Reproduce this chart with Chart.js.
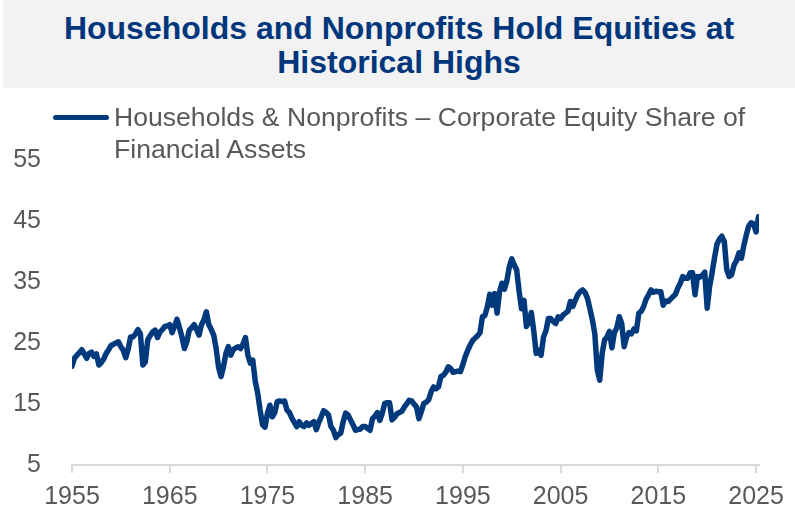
<!DOCTYPE html>
<html>
<head>
<meta charset="utf-8">
<script src="https://cdn.jsdelivr.net/npm/chart.js@4"></script>
<style>
  body { margin: 0; width: 795px; height: 513px; background: #fff; position: relative; overflow: hidden;
         font-family: 'Liberation Sans', Arial, sans-serif; }
  #title { position: absolute; left: 3px; top: 0; width: 792px; height: 88px; background: #F2F2F2;
           color: #00367C; font-weight: bold; font-size: 32px; line-height: 34px; text-align: center;
           box-sizing: border-box; padding-top: 11px; z-index: 2; }
  #legend { position: absolute; left: 53px; top: 102px; z-index: 2; }
  #legend .swatch { position: absolute; left: 0; top: 13px; width: 56px; height: 5px; border-radius: 3px; background: #003A7D; }
  #legend .label { position: absolute; left: 61px; top: 0; white-space: nowrap; color: #595959;
                   font-size: 26.6px; line-height: 31.7px; }
  #wrap { position: absolute; left: 0; top: 0; width: 795px; height: 513px; z-index: 1; }
</style>
</head>
<body>
<div id="title">Households and Nonprofits Hold Equities at<br>Historical Highs</div>
<div id="legend"><div class="swatch"></div><div class="label">Households &amp; Nonprofits – Corporate Equity Share of<br>Financial Assets</div></div>
<div id="wrap"><canvas id="js--chart--1"></canvas></div>
<script>
const seriesLabel = 'Households & Nonprofits – Corporate Equity Share of Financial Assets';
const startYear = 1955; // first quarter of the series
// quarterly values, 1955 Q1 .. 2025 Q2
const equityShare = [
  21.2, 22.5, 23.0, 23.4,  23.9, 23.2, 22.5, 23.3,  23.5, 22.8, 23.2, 21.4,  21.8, 22.4, 23.3, 23.9,  24.6, 24.8, 25.0, 25.2,
  24.4, 23.8, 22.6, 24.0,  26.0, 26.0, 26.5, 27.2,  26.5, 21.4, 21.9, 25.5,  26.2, 26.8, 27.1, 25.9,  26.8, 27.2, 27.7, 27.8,
  28.0, 26.7, 27.8, 28.9,  27.5, 26.0, 24.1, 25.2,  27.1, 27.5, 28.0, 27.2,  26.3, 28.0, 28.8, 30.1,  28.0, 27.2, 26.3, 24.1,
  21.0, 19.5, 21.1, 23.3,  24.4, 23.0, 23.9, 24.2,  24.4, 24.1, 24.8, 25.9,  23.0, 21.7, 22.2, 18.7,  16.8, 14.0, 11.6, 11.2,
  13.5, 14.8, 12.9, 13.6,  15.4, 15.5, 15.4, 15.5,  14.0, 13.6, 12.7, 12.0,  11.3, 12.1, 11.5, 11.3,  11.9, 11.5, 11.8, 12.1,
  10.8, 12.0, 12.9, 13.9,  13.6, 13.2, 11.3, 10.7,   9.5, 10.0, 10.2, 12.1,  13.5, 13.2, 12.4, 11.6,  10.7, 10.8, 10.9, 11.3,
  11.3, 11.0, 10.7, 12.6,  13.0, 13.6, 12.3, 13.5,  15.1, 15.2, 15.2, 12.4,  12.8, 13.4, 13.6, 13.8,  14.5, 15.0, 15.6, 15.5,
  15.0, 14.5, 12.6, 13.8,  15.1, 15.3, 15.7, 17.0,  17.8, 17.5, 17.8, 19.5,  19.7, 20.2, 21.1, 20.8,  20.2, 20.3, 20.4, 20.3,
  21.5, 22.8, 23.8, 24.7,  25.4, 25.8, 26.2, 26.7,  29.3, 29.5, 30.9, 33.0,  31.2, 33.1, 29.9, 33.4,  34.8, 33.8, 35.2, 37.5,
  38.8, 37.8, 37.0, 33.5,  30.6, 32.0, 27.7, 28.5,  30.0, 27.0, 23.3, 23.8,  23.0, 26.0, 27.0, 29.0,  29.0, 28.5, 28.2, 29.3,
  29.0, 29.6, 29.9, 30.2,  31.8, 31.0, 32.0, 32.9,  33.4, 33.7, 33.3, 32.3,  30.6, 28.8, 26.5, 20.6,  18.9, 23.3, 25.5, 26.0,
  26.9, 24.2, 26.7, 27.5,  29.3, 28.2, 24.4, 26.0,  26.7, 26.5, 27.3, 27.0,  29.9, 30.2, 31.0, 32.2,  32.9, 33.7, 33.3, 33.5,
  33.4, 33.4, 31.2, 31.9,  31.8, 32.2, 32.6, 33.0,  34.0, 34.8, 35.9, 35.6,  35.6, 36.5, 36.5, 32.9,  35.9, 35.8, 36.1, 36.6,
  30.7, 34.3, 36.5, 39.0,  41.2, 42.0, 42.5, 41.6,  37.0, 35.9, 36.2, 37.8,  38.5, 39.8, 38.9, 41.0,  42.7, 44.2, 44.7, 44.5,
  43.2, 45.7
];
const xTicks = [1955, 1965, 1975, 1985, 1995, 2005, 2015, 2025];
const yTicks = [5, 15, 25, 35, 45, 55];

const points = equityShare.map((v, i) => ({ x: startYear + i / 4, y: v }));

const ctx = document.getElementById('js--chart--1');
const tickFont = { family: "'Liberation Sans', Arial, sans-serif", size: 25 };

const lineChart = new Chart(ctx, {
    type: 'line',
    data: {
        datasets: [{
            label: seriesLabel,
            data: points,
            borderColor: '#003A7D',
            borderWidth: 5.5,
            pointRadius: 0,
            tension: 0,
            borderCapStyle: 'round',
            borderJoinStyle: 'round'
        }]
    },
    options: {
        responsive: true,
        maintainAspectRatio: false,
        animation: false,
        layout: { padding: { top: 160, right: 36, bottom: 0, left: 0 } },
        plugins: { legend: { display: false }, title: { display: false }, tooltip: { enabled: false } },
        scales: {
            x: {
                type: 'linear',
                min: 1955,
                max: 2025.3,
                afterBuildTicks: axis => { axis.ticks = xTicks.map(v => ({ value: v })); },
                afterFit: axis => { axis.height = 48; },
                ticks: { color: '#595959', font: tickFont, padding: 9, maxRotation: 0, callback: v => String(v) },
                grid: { display: true, drawOnChartArea: false, drawTicks: true, tickLength: 8, color: '#D9D9D9', lineWidth: 2 },
                border: { display: true, color: '#D9D9D9', width: 2 }
            },
            y: {
                min: 5,
                max: 55,
                afterBuildTicks: axis => { axis.ticks = yTicks.map(v => ({ value: v })); },
                afterFit: axis => { axis.width = 72; },
                ticks: { color: '#595959', font: tickFont, padding: 23 },
                grid: { display: false },
                border: { display: false }
            }
        }
    }
});
</script>
</body>
</html>
